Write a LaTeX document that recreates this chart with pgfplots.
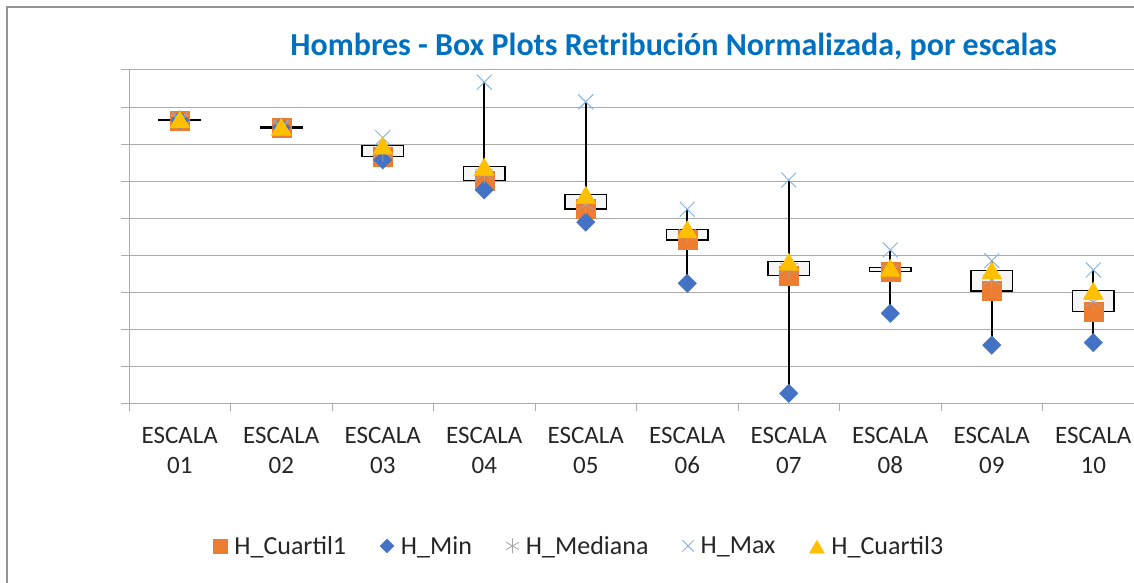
\documentclass[border=0pt]{standalone}
\usepackage{pgfplots}
\pgfplotsset{compat=1.18}
\usepackage{pgfplotstable}
\usepgfplotslibrary{statistics}
\usepackage{fontspec}
\setmainfont{Carlito}
\definecolor{cq1}{HTML}{ED7D31}
\definecolor{cmin}{HTML}{4472C4}
\definecolor{cmed}{HTML}{A5A5A5}
\definecolor{cmax}{HTML}{84B4E3}
\definecolor{cq3}{HTML}{FFC000}
\definecolor{ctitle}{HTML}{0070C0}
\definecolor{cgrid}{HTML}{ABABAB}

\pgfplotstableread{
x q1 mn md mx q3
0 7.63 7.65 7.65 7.65 7.67
1 7.43 7.45 7.45 7.45 7.47
2 6.66 6.57 6.79 7.17 6.96
3 6.01 5.76 6.19 8.67 6.39
4 5.25 4.89 5.36 8.14 5.63
5 4.41 3.24 4.57 5.24 4.70
6 3.45 0.27 3.65 6.03 3.82
7 3.55 2.43 3.60 4.14 3.66
8 3.03 1.57 3.33 3.85 3.59
9 2.47 1.64 2.74 3.60 3.04
}\data

\pgfplotsset{
  /pgfplots/boxplot/every whisker/.style={draw=black, line width=1.8pt},
  bx/.style={forget plot, draw=black, line width=1.3pt, fill=white!96!black,
    boxplot/draw direction=y,
    boxplot/box extend=0.41, boxplot/whisker extend=0,
    boxplot/draw/median/.code={}},
}

\begin{document}
\begin{tikzpicture}
\path[use as bounding box] (0,0) rectangle (1134pt,583pt);
\draw[gray!85, line width=1.2pt] (7pt,0pt) -- (7pt,576pt) -- (1134pt,576pt);
\begin{axis}[
  at={(129pt,179.7pt)}, anchor=south west,
  scale only axis, width=1005pt, height=333.3pt,
  xmin=-0.5, xmax=9.4, ymin=0, ymax=9,
  clip=false,
  axis lines*=left,
  axis line style={cgrid, line width=1pt},
  ytick={0,...,9}, yticklabels={},
  ymajorgrids, grid style={cgrid, line width=1pt},
  tick align=outside, major tick length=8pt,
  tick style={cgrid, line width=1pt},
  xtick={-0.5,0.5,...,8.5}, xticklabels={},
  extra x ticks={0,...,9},
  extra x tick labels={ESCALA\\01,ESCALA\\02,ESCALA\\03,ESCALA\\04,ESCALA\\05,ESCALA\\06,ESCALA\\07,ESCALA\\08,ESCALA\\09,ESCALA\\10},
  extra x tick style={major tick length=0pt, grid=none},
  xticklabel style={align=center, font=\fontsize{25}{30}\selectfont, text=black!85, inner sep=0pt, yshift=-24pt},
  title={Hombres - Box Plots Retribución Normalizada, por escalas},
  title style={at={(0.542,1.024)}, anchor=base, font=\fontsize{32}{36}\selectfont\bfseries, text=ctitle},
  legend columns=5,
  legend style={draw=none, fill=none, at={(0.448,-0.428)}, anchor=center,
    font=\fontsize{26}{30}\selectfont, text=black!85,
    /tikz/every odd column/.append style={column sep=5pt},
    /tikz/every even column/.append style={column sep=32pt}},
  legend image post style={/tikz/every mark/.append style={scale=0.75}},
]
% boxes and whiskers (high-low lines and up/down bars)
\addplot[bx, boxplot prepared={draw position=0, lower whisker=7.65, lower quartile=7.63, median=7.65, upper quartile=7.67, upper whisker=7.65}] coordinates {};
\addplot[bx, boxplot prepared={draw position=1, lower whisker=7.45, lower quartile=7.43, median=7.45, upper quartile=7.47, upper whisker=7.45}] coordinates {};
\addplot[bx, boxplot prepared={draw position=2, lower whisker=6.57, lower quartile=6.66, median=6.79, upper quartile=6.96, upper whisker=7.17}] coordinates {};
\addplot[bx, boxplot prepared={draw position=3, lower whisker=5.76, lower quartile=6.01, median=6.19, upper quartile=6.39, upper whisker=8.67}] coordinates {};
\addplot[bx, boxplot prepared={draw position=4, lower whisker=4.89, lower quartile=5.25, median=5.36, upper quartile=5.63, upper whisker=8.14}] coordinates {};
\addplot[bx, boxplot prepared={draw position=5, lower whisker=3.24, lower quartile=4.41, median=4.57, upper quartile=4.70, upper whisker=5.24}] coordinates {};
\addplot[bx, boxplot prepared={draw position=6, lower whisker=0.27, lower quartile=3.45, median=3.65, upper quartile=3.82, upper whisker=6.03}] coordinates {};
\addplot[bx, boxplot prepared={draw position=7, lower whisker=2.43, lower quartile=3.55, median=3.60, upper quartile=3.66, upper whisker=4.14}] coordinates {};
\addplot[bx, boxplot prepared={draw position=8, lower whisker=1.57, lower quartile=3.03, median=3.33, upper quartile=3.59, upper whisker=3.85}] coordinates {};
\addplot[bx, boxplot prepared={draw position=9, lower whisker=1.64, lower quartile=2.47, median=2.74, upper quartile=3.04, upper whisker=3.60}] coordinates {};
% marker series
\addplot[only marks, mark=square*, mark size=9.5pt, color=cq1] table[x=x, y=q1] {\data};
\addlegendentry{H\_Cuartil1}
\addplot[only marks, mark=square*, mark size=6.5pt, mark options={rotate=45}, color=cmin] table[x=x, y=mn] {\data};
\addlegendentry{H\_Min}
\addplot[only marks, mark=asterisk, mark size=10pt, color=cmed, line width=0.8pt] table[x=x, y=md] {\data};
\addlegendentry{H\_Mediana}
\addplot[only marks, mark=x, mark size=10.5pt, color=cmax, line width=1pt] table[x=x, y=mx] {\data};
\addlegendentry{H\_Max}
\addplot[only marks, mark=triangle*, mark size=11.5pt, mark options={yshift=-2.9pt}, color=cq3] table[x=x, y=q3] {\data};
\addlegendentry{H\_Cuartil3}
\end{axis}
\end{tikzpicture}
\end{document}
